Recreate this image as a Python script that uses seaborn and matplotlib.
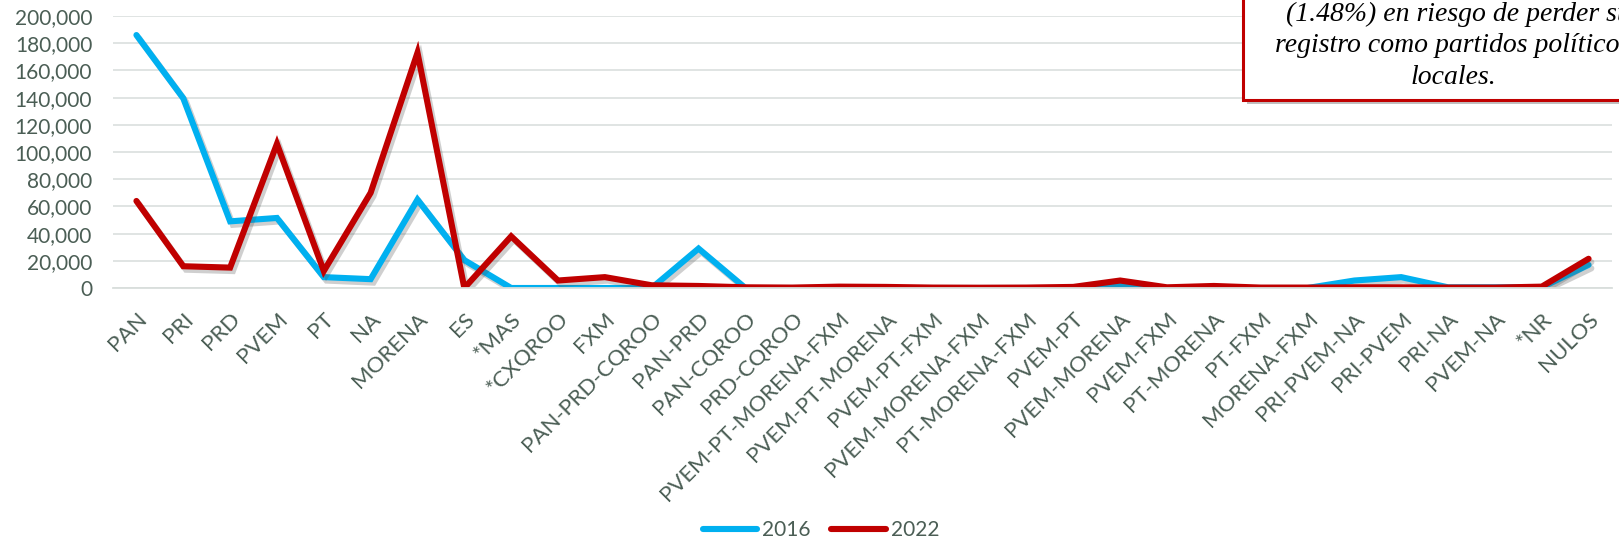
import matplotlib
matplotlib.use("Agg")
import matplotlib.pyplot as plt
import matplotlib.patheffects as pe
from matplotlib.patches import Rectangle
from matplotlib.lines import Line2D
import seaborn as sns
import pandas as pd

categories = ["PAN", "PRI", "PRD", "PVEM", "PT", "NA", "MORENA", "ES", "*MAS", "*CXQROO",
              "FXM", "PAN-PRD-CQROO", "PAN-PRD", "PAN-CQROO", "PRD-CQROO",
              "PVEM-PT-MORENA-FXM", "PVEM-PT-MORENA", "PVEM-PT-FXM", "PVEM-MORENA-FXM",
              "PT-MORENA-FXM", "PVEM-PT", "PVEM-MORENA", "PVEM-FXM", "PT-MORENA", "PT-FXM",
              "MORENA-FXM", "PRI-PVEM-NA", "PRI-PVEM", "PRI-NA", "PVEM-NA", "*NR", "NULOS"]
v2016 = [186000, 139500, 49000, 51500, 8000, 6500, 65000, 20500, 0, 0,
         0, 0, 29000, 0, 0,
         0, 0, 0, 0,
         0, 0, 2000, 0, 0, 0,
         0, 5500, 8000, 500, 500, 500, 17000]
v2022 = [64000, 16000, 15000, 106000, 12500, 70000, 173000, 0, 38000, 5500,
         8000, 2000, 1500, 500, 300,
         1000, 800, 300, 200,
         300, 800, 5500, 500, 1500, 300,
         300, 500, 500, 300, 300, 1000, 21500]
years = ["2016", "2022"]
colors = {"2016": "#00B0F0", "2022": "#C00000"}
box_lines = ["(1.48%) en riesgo de perder su", "registro como partidos políticos", "locales."]

df = pd.DataFrame({
    "cat": categories * 2,
    "x": list(range(len(categories))) * 2,
    "votes": v2016 + v2022,
    "year": [years[0]] * len(categories) + [years[1]] * len(categories),
})

sns.set_theme(style="white")
plt.rcParams["font.family"] = ["Lato", "DejaVu Sans"]
txt = "#4B5E55"

fig = plt.figure(figsize=(16.19, 5.41), dpi=100)
ax = fig.add_axes([113 / 1619, 1 - 288 / 541, (1612 - 113) / 1619, (288 - 16) / 541])

sns.lineplot(data=df, x="x", y="votes", hue="year", palette=colors, ax=ax,
             linewidth=4.4, legend=False, sort=False)
for ln in ax.get_lines():
    ln.set_solid_capstyle("round")
    ln.set_solid_joinstyle("miter")
    ln.set_path_effects([pe.SimpleLineShadow(offset=(2, -2.5), alpha=0.28, shadow_color="#555555"),
                         pe.Normal()])

ax.set_xlim(-0.5, len(categories) - 0.5)
ax.set_ylim(0, 200000)
ax.set_yticks(range(0, 200001, 20000))
ax.set_yticklabels([f"{v:,}" for v in range(0, 200001, 20000)], fontsize=15, color=txt)
ax.set_xticks(range(len(categories)))
ax.set_xticklabels(categories, rotation=45, ha="right", va="top", rotation_mode="anchor",
                   fontsize=16, color=txt)
ax.tick_params(axis="x", length=0, pad=15)
ax.tick_params(axis="y", length=0, pad=15)
ax.set_xticks([i + 0.5 for i in range(-1, len(categories))], minor=True)
ax.tick_params(axis="x", which="minor", length=6, color="#D9DEDC", width=1.2)
ax.grid(axis="y", color="#DDE2E0", linewidth=1.3)
ax.set_axisbelow(True)
for s in ["top", "right", "left"]:
    ax.spines[s].set_visible(False)
ax.spines["bottom"].set_color("#D9DEDC")
ax.spines["bottom"].set_linewidth(1.3)
ax.set_xlabel("")
ax.set_ylabel("")

# legend
handles = [Line2D([0], [0], color=colors[y], lw=4.4, solid_capstyle="round") for y in years]
fig.legend(handles, years, loc="center", bbox_to_anchor=(821 / 1619, 1 - 530 / 541), ncol=2,
           frameon=False, fontsize=15, handlelength=2.6, columnspacing=1.0,
           handletextpad=0.25, labelcolor=txt, borderpad=0)

# text box (partially cut off at the right edge)
box = Rectangle((1243 / 1619, 1 - 100 / 541), 0.5, 0.5, transform=fig.transFigure,
                facecolor="white", edgecolor="#C00000", linewidth=2.2, zorder=5,
                path_effects=[pe.SimplePatchShadow(offset=(3, -3), alpha=0.35), pe.Normal()])
fig.add_artist(box)
line_x = [1458, 1453, 1453]
for i, t in enumerate(box_lines):
    fig.text(line_x[i] / 1619, 1 - (14 + i * 32) / 541, t, ha="center", va="center",
             fontsize=20, style="italic", family=["Liberation Serif", "DejaVu Serif"],
             color="black", zorder=6)

fig.savefig("out.png", dpi=100)
